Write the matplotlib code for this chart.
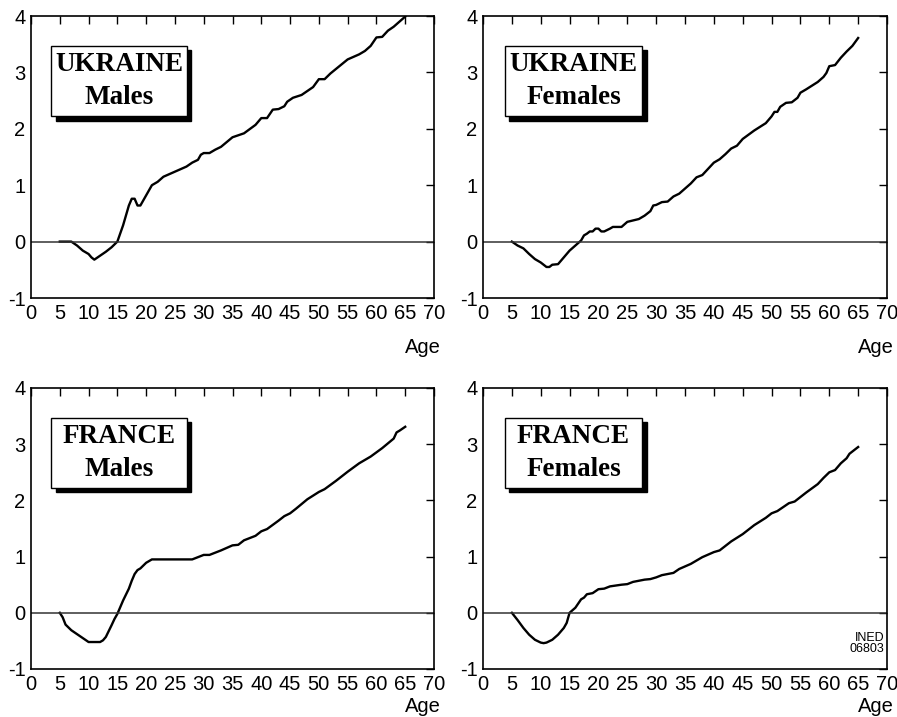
import matplotlib
matplotlib.use("Agg")
import matplotlib.pyplot as plt
from matplotlib.patches import Rectangle

plt.rcParams["axes.unicode_minus"] = False

# Ukraine, males
ukr_m_age = [5, 7, 8, 9, 10, 10.5, 11, 12, 13, 14, 15, 16, 17, 17.5, 18, 18.5, 19, 20, 21, 22, 23,
             25, 27, 28, 29, 29.5, 30, 31, 32, 33, 35, 37, 39, 40, 41, 42, 43, 44, 44.5, 45.5, 47,
             48, 49, 50, 51, 52, 55, 57, 58, 59, 60, 61, 62, 63, 64, 65]
ukr_m_val = [0, 0, -0.07, -0.16, -0.22, -0.28, -0.32, -0.25, -0.18, -0.10, 0, 0.29, 0.64, 0.76,
             0.76, 0.64, 0.64, 0.82, 1.0, 1.06, 1.15, 1.24, 1.33, 1.40, 1.45, 1.54, 1.57, 1.57,
             1.63, 1.68, 1.85, 1.92, 2.07, 2.19, 2.19, 2.34, 2.35, 2.40, 2.48, 2.55, 2.60, 2.67,
             2.74, 2.88, 2.88, 2.98, 3.23, 3.32, 3.38, 3.47, 3.62, 3.63, 3.74, 3.81, 3.90, 3.99]

# Ukraine, females
ukr_f_age = [5, 6, 7, 8, 9, 10, 11, 11.5, 12, 13, 14, 15, 16, 17, 17.5, 18, 18.5, 19, 19.5, 20,
             20.5, 21, 22, 22.5, 24, 25, 27, 28, 29, 29.5, 30, 31, 32, 33, 34, 36, 37, 38, 39, 40,
             41, 42, 43, 44, 45, 47, 49, 50, 50.5, 51, 51.5, 52.5, 53.5, 54.5, 55, 56, 58, 59,
             59.5, 60, 61, 62, 63, 64, 65]
ukr_f_val = [0, -0.07, -0.12, -0.22, -0.31, -0.37, -0.45, -0.45, -0.41, -0.40, -0.28, -0.16,
             -0.07, 0.02, 0.11, 0.14, 0.18, 0.18, 0.23, 0.23, 0.18, 0.18, 0.23, 0.26, 0.26, 0.35,
             0.40, 0.46, 0.54, 0.64, 0.65, 0.70, 0.71, 0.80, 0.85, 1.03, 1.14, 1.18, 1.29, 1.40,
             1.46, 1.55, 1.65, 1.70, 1.82, 1.97, 2.10, 2.22, 2.30, 2.30, 2.39, 2.46, 2.47, 2.55,
             2.64, 2.70, 2.83, 2.92, 2.99, 3.11, 3.13, 3.26, 3.37, 3.47, 3.61]

# France, males
fra_m_age = [5, 5.5, 6, 7, 8, 9, 10, 11, 12, 12.5, 13, 14, 14.5, 15, 16, 17, 17.5, 18, 18.5, 19,
             20, 21, 22, 28, 29, 30, 31, 33, 35, 36, 37, 39, 40, 41, 43, 44, 45, 46, 48, 50, 51,
             53, 55, 57, 59, 61, 63, 63.5, 64, 65]
fra_m_val = [0, -0.08, -0.21, -0.31, -0.38, -0.45, -0.52, -0.52, -0.52, -0.49, -0.43, -0.22,
             -0.11, -0.02, 0.22, 0.43, 0.57, 0.69, 0.76, 0.79, 0.89, 0.95, 0.95, 0.95, 0.99,
             1.03, 1.03, 1.11, 1.20, 1.21, 1.29, 1.37, 1.45, 1.49, 1.64, 1.72, 1.77, 1.85, 2.02,
             2.15, 2.20, 2.35, 2.51, 2.66, 2.78, 2.93, 3.10, 3.21, 3.24, 3.31]

# France, females
fra_f_age = [5, 6, 7, 8, 9, 10, 10.5, 11, 12, 13, 14, 14.5, 15, 16, 17, 17.5, 18, 19, 20, 21,
             22, 24, 25, 26, 28, 29, 30, 31, 33, 34, 36, 38, 40, 41, 43, 45, 47, 49, 50, 51, 53,
             54, 56, 58, 59, 60, 61, 62, 63, 63.5, 64, 65]
fra_f_val = [0, -0.13, -0.27, -0.39, -0.48, -0.53, -0.54, -0.53, -0.48, -0.39, -0.27, -0.18, 0,
             0.09, 0.24, 0.27, 0.33, 0.35, 0.42, 0.43, 0.47, 0.50, 0.51, 0.55, 0.59, 0.60, 0.63,
             0.67, 0.71, 0.78, 0.87, 0.99, 1.08, 1.11, 1.27, 1.40, 1.56, 1.69, 1.77, 1.81, 1.95,
             1.98, 2.14, 2.29, 2.40, 2.50, 2.54, 2.66, 2.75, 2.83, 2.87, 2.95]

panels = [
    ("UKRAINE", "Males", ukr_m_age, ukr_m_val),
    ("UKRAINE", "Females", ukr_f_age, ukr_f_val),
    ("FRANCE", "Males", fra_m_age, fra_m_val),
    ("FRANCE", "Females", fra_f_age, fra_f_val),
]

W, H = 897, 717
fig = plt.figure(figsize=(W / 100, H / 100), dpi=100)

# axes boxes in pixels: left, top, right, bottom
boxes = [(31, 16, 434, 298), (483, 16, 887, 298),
         (31, 388, 434, 669), (483, 388, 887, 669)]

for i, (country, sex, age, val) in enumerate(panels):
    l, t, r, b = boxes[i]
    ax = fig.add_axes([l / W, 1 - b / H, (r - l) / W, (b - t) / H])
    ax.plot(age, val, color="black", lw=1.7)
    ax.axhline(0, color="#333333", lw=1.1)
    ax.set_xlim(0, 70)
    ax.set_ylim(-1, 4)
    ax.set_xticks(range(0, 71, 5))
    ax.set_yticks(range(-1, 5))
    ax.tick_params(axis="x", bottom=False, top=True, direction="in", length=6,
                   labelsize=14.5, pad=4, width=1)
    ax.tick_params(axis="y", left=False, right=True, direction="in", length=6,
                   labelsize=14.5, pad=4, width=1)
    for lab in ax.get_xticklabels() + ax.get_yticklabels():
        lab.set_fontfamily("Liberation Sans")
    for s in ax.spines.values():
        s.set_linewidth(1.2)

    age_y = -0.175 if i < 2 else -0.135
    ax.text(1.018, age_y, "Age", transform=ax.transAxes, ha="right", va="center",
            fontsize=14.5, family="Liberation Sans")

    # title box with drop shadow
    bx0 = 0.05 if i % 2 == 0 else 0.054
    bx1 = 0.387 if i % 2 == 0 else 0.394
    by0, by1 = 0.645, 0.894
    dx, dy = 4.5 / (r - l), 4.5 / (b - t)
    ax.add_patch(Rectangle((bx0 + dx, by0 - dy), bx1 - bx0, by1 - by0,
                           transform=ax.transAxes, facecolor="black",
                           edgecolor="black", zorder=4))
    ax.add_patch(Rectangle((bx0, by0), bx1 - bx0, by1 - by0,
                           transform=ax.transAxes, facecolor="white",
                           edgecolor="black", lw=1.0, zorder=5))
    cx = (bx0 + bx1) / 2
    ax.text(cx, 0.828, country, transform=ax.transAxes, ha="center", va="center",
            fontsize=19.5, fontweight="bold", family="Liberation Serif", zorder=6)
    ax.text(cx, 0.71, sex, transform=ax.transAxes, ha="center", va="center",
            fontsize=19.5, fontweight="bold", family="Liberation Serif", zorder=6)

    if i == 3:
        ax.text(0.993, 0.09, "INED\n06803", transform=ax.transAxes, ha="right",
                va="center", fontsize=9, family="Liberation Sans", linespacing=0.9)

fig.savefig("out.png", dpi=100)
